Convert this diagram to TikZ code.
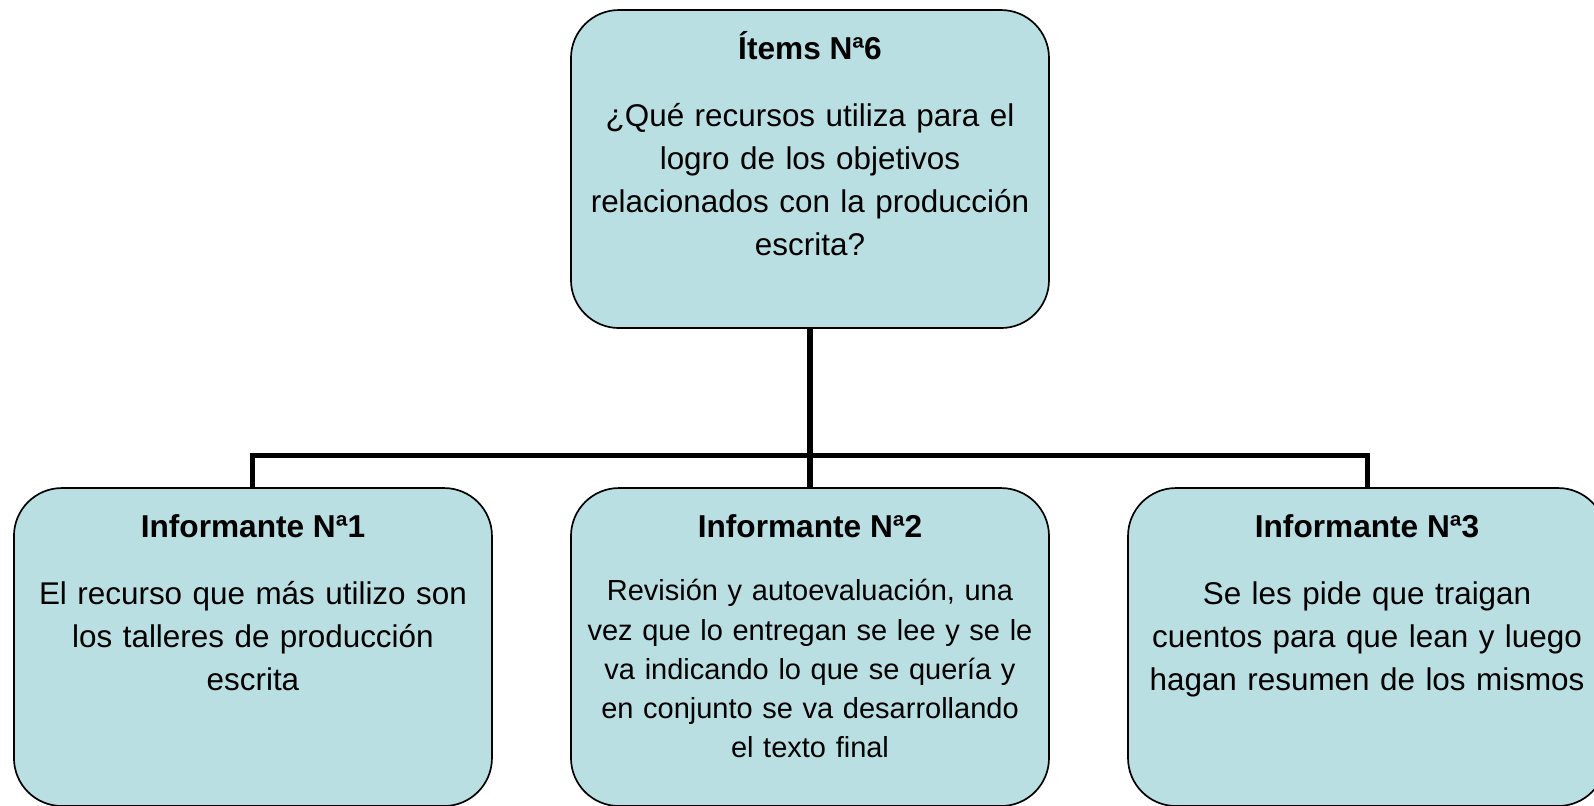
\documentclass[tikz,border=0pt]{standalone}
\usepackage{fontspec}
\setmainfont{Liberation Sans}
\usetikzlibrary{shapes,positioning}
\usetikzlibrary{backgrounds}
\definecolor{boxfill}{RGB}{185,223,227}

\begin{document}
\begin{tikzpicture}[line width=.8pt
  ]
% Box and text styles
\tikzstyle{item}=[draw=black,fill=boxfill,outer sep=0pt,rounded corners=.8cm, minimum width=7.967cm, minimum height=5.3cm]
\tikzstyle{ttl}=[anchor=base,inner sep=0pt,font=\fontsize{15pt}{20.3pt}\selectfont\bfseries]
\tikzstyle{txt}=[anchor=north,inner sep=0pt,align=center,text width=7.8cm,font=\fontsize{14.9pt}{20.3pt}\selectfont]
\tikzstyle{txtsm}=[txt,font=\fontsize{13.75pt}{18.6pt}\selectfont]
\tikzstyle{conn}=[draw=black,line width=2.4pt]

\useasboundingbox (0,0) rectangle (26.567,-13.433);
% Blocks
\node[item] (it6) at (13.5,-2.817) {};
\node[item, below=2.667cm of it6] (inf2) {};
\node[item, left=1.317cm of inf2] (inf1) {};
\node[item, right=1.317cm of inf2] (inf3) {};

% Texts
\node[ttl] (t6) at ([yshift=-.817cm]it6.north) {Ítems Nª6};
\node[txt] (q6) at ([yshift=-1.43cm]it6.north) {\strut¿Qué recursos utiliza para el\\logro de los objetivos\\relacionados con la producción\\escrita?};

\node[ttl] (t1) at ([yshift=-.817cm]inf1.north) {Informante Nª1};
\node[txt] (a1) at ([yshift=-1.43cm]inf1.north) {\strut El recurso que más utilizo son\\los talleres de producción\\escrita};

\node[ttl] (t2) at ([yshift=-.817cm]inf2.north) {Informante Nª2};
\node[txtsm] (a2) at ([yshift=-1.41cm]inf2.north) {\strut Revisión y autoevaluación, una\\vez que lo entregan se lee y se le\\va indicando lo que se quería y\\en conjunto se va desarrollando\\el texto final};

\node[ttl] (t3) at ([yshift=-.817cm]inf3.north) {Informante Nª3};
\node[txt] (a3) at ([yshift=-1.43cm]inf3.north) {\strut Se les pide que traigan\\cuentos para que lean y luego\\hagan resumen de los mismos};

% Connectors
\coordinate (hb) at ([yshift=.55cm]inf2.north);
\begin{scope}[on background layer]
\draw[conn] (it6.south) -- (inf2.north);
\draw[conn] (inf1.north) |- (hb) -| (inf3.north);
\end{scope}
%---------------------
\end{tikzpicture}
\end{document}
